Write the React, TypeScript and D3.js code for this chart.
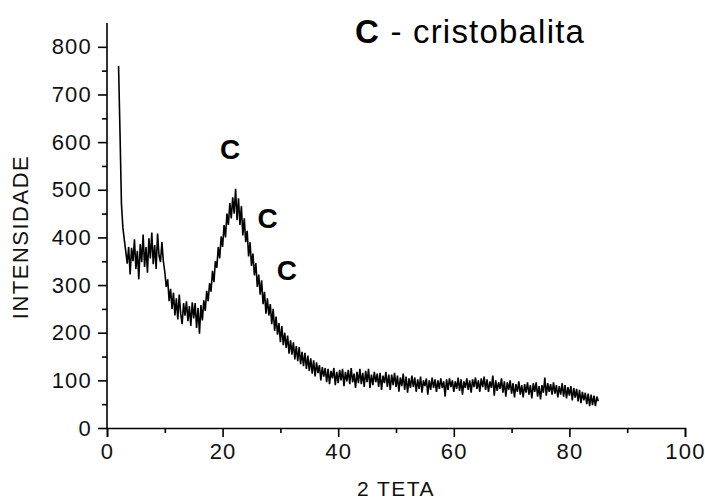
import React, { useEffect, useRef } from "react";
import * as d3 from "d3";

// 2-theta grid of the scan: start angle and step (degrees)
const angleStart = 2;
const angleStep = 0.25;

// intensity, 4 readings per degree from 2 to 85
const intensity = [
  760, 620, 470, 420, // 2
  395, 370, 345, 380, // 3
  322, 378, 350, 396, // 4
  334, 372, 312, 386, // 5
  348, 406, 338, 380, // 6
  326, 398, 356, 410, // 7
  344, 384, 334, 408, // 8
  362, 348, 390, 350, // 9
  328, 296, 312, 266, // 10
  292, 250, 284, 236, // 11
  272, 228, 280, 240, // 12
  218, 262, 236, 266, // 13
  224, 256, 214, 264, // 14
  230, 262, 210, 252, // 15
  198, 258, 226, 268, // 16
  246, 288, 266, 304, // 17
  286, 330, 306, 350, // 18
  336, 380, 356, 402, // 19
  380, 426, 400, 450, // 20
  426, 472, 440, 484, // 21
  450, 502, 436, 482, // 22
  426, 466, 404, 440, // 23
  390, 414, 360, 390, // 24
  340, 366, 320, 346, // 25
  296, 322, 280, 310, // 26
  260, 286, 240, 272, // 27
  236, 260, 218, 250, // 28
  204, 234, 196, 220, // 29
  180, 214, 174, 200, // 30
  168, 194, 156, 184, // 31
  154, 180, 144, 172, // 32
  140, 170, 134, 160, // 33
  130, 158, 124, 152, // 34
  120, 146, 114, 142, // 35
  108, 138, 115, 132, // 36
  100, 128, 108, 126, // 37
  96, 124, 92, 120, // 38
  104, 126, 90, 118, // 39
  94, 122, 100, 124, // 40
  88, 118, 98, 122, // 41
  92, 126, 96, 114, // 42
  84, 118, 94, 124, // 43
  92, 116, 86, 120, // 44
  96, 124, 84, 112, // 45
  90, 118, 96, 114, // 46
  86, 116, 80, 110, // 47
  94, 118, 86, 112, // 48
  80, 112, 90, 116, // 49
  86, 110, 76, 106, // 50
  88, 114, 80, 108, // 51
  74, 104, 84, 110, // 52
  86, 106, 76, 102, // 53
  82, 108, 74, 100, // 54
  88, 104, 70, 100, // 55
  80, 106, 84, 102, // 56
  76, 100, 82, 104, // 57
  84, 98, 66, 102, // 58
  80, 104, 86, 100, // 59
  76, 98, 82, 106, // 60
  78, 102, 70, 98, // 61
  84, 104, 80, 100, // 62
  74, 102, 86, 106, // 63
  82, 100, 76, 104, // 64
  86, 108, 80, 102, // 65
  76, 98, 84, 110, // 66
  68, 100, 78, 96, // 67
  82, 104, 74, 98, // 68
  66, 96, 80, 100, // 69
  72, 94, 64, 92, // 70
  76, 98, 70, 90, // 71
  64, 92, 74, 96, // 72
  70, 90, 62, 94, // 73
  76, 96, 66, 88, // 74
  60, 90, 74, 106, // 75
  68, 94, 76, 92, // 76
  70, 96, 72, 90, // 77
  64, 88, 70, 94, // 78
  66, 90, 62, 86, // 79
  68, 88, 58, 84, // 80
  64, 82, 56, 80, // 81
  52, 76, 58, 74, // 82
  50, 72, 46, 70, // 83
  48, 68, 46, 66, // 84
  56 // 85
];

const xTicks = [0, 20, 40, 60, 80, 100];
const yTicks = [0, 100, 200, 300, 400, 500, 600, 700, 800];

// peak markers: where the letters sit
const peakLabels = [
  { angle: 21.3, value: 565, text: "C" },
  { angle: 27.8, value: 420, text: "C" },
  { angle: 31.1, value: 310, text: "C" },
];

const width = 705;
const height = 502;
const margin = { top: 23, right: 20, bottom: 74, left: 107 };
const font = "'Liberation Sans', Arial, sans-serif";

export default function App() {
  const ref = useRef<SVGSVGElement>(null);

  useEffect(() => {
    const svg = d3.select(ref.current);
    svg.selectAll("*").remove();

    const innerHeight = height - margin.top - margin.bottom;
    const g = svg.append("g").attr("transform", `translate(${margin.left},${margin.top})`);

    const x = d3.scaleLinear().domain([0, 100]).range([0, 578]);
    const y = d3.scaleLinear().domain([0, 850]).range([innerHeight, 0]);

    const data = intensity.map((v, i) => ({ angle: angleStart + i * angleStep, v }));

    // x axis
    const xAxis = g.append("g").attr("transform", `translate(0,${innerHeight})`)
      .call(d3.axisBottom(x).tickValues(xTicks).tickSize(9).tickPadding(6).tickFormat(d3.format("d")));
    g.append("g").attr("transform", `translate(0,${innerHeight})`)
      .call(d3.axisBottom(x).tickValues(d3.range(10, 100, 20)).tickSize(5).tickFormat(() => ""))
      .select(".domain").remove();

    // y axis
    const yAxis = g.append("g")
      .call(d3.axisLeft(y).tickValues(yTicks).tickSize(9).tickPadding(6).tickFormat(d3.format("d")));
    g.append("g")
      .call(d3.axisLeft(y).tickValues(d3.range(50, 850, 100)).tickSize(5).tickFormat(() => ""))
      .select(".domain").remove();
    yAxis.select(".domain").attr("d", `M-0,${y(850)}V${innerHeight}`);

    g.selectAll(".domain, .tick line").attr("stroke", "#000").attr("stroke-width", 1.6);
    [xAxis, yAxis].forEach(a => a.selectAll("text")
      .attr("font-family", font).attr("font-size", 22).attr("letter-spacing", 1.2).attr("fill", "#111"));

    // pattern
    const line = d3.line<{ angle: number; v: number }>().x(d => x(d.angle)).y(d => y(d.v));
    g.append("path").datum(data).attr("d", line).attr("fill", "none")
      .attr("stroke", "#000").attr("stroke-width", 1.6).attr("stroke-linejoin", "miter");

    // peak letters
    g.selectAll(".peak").data(peakLabels).join("text").attr("class", "peak")
      .attr("x", d => x(d.angle)).attr("y", d => y(d.value))
      .attr("text-anchor", "middle").attr("font-family", font).attr("font-weight", "bold")
      .attr("font-size", 28).text(d => d.text);

    // axis titles
    svg.append("text").attr("x", margin.left + x(50)).attr("y", 496).attr("text-anchor", "middle")
      .attr("font-family", font).attr("font-size", 21).attr("letter-spacing", 1.5).attr("fill", "#111")
      .text("2 TETA");
    svg.append("text").attr("transform", `translate(28,237) rotate(-90)`).attr("text-anchor", "middle")
      .attr("font-family", font).attr("font-size", 22).attr("letter-spacing", 1.5).attr("fill", "#111")
      .text("INTENSIDADE");

    // legend
    const legend = svg.append("text").attr("x", 355).attr("y", 43)
      .attr("font-family", font).attr("font-size", 33).attr("letter-spacing", 1.2).attr("fill", "#000");
    legend.append("tspan").attr("font-weight", "bold").text("C");
    legend.append("tspan").text(" - cristobalita");
  }, []);

  return (
    <svg ref={ref} width={width} height={height}
      style={{ position: "absolute", left: 0, top: 0, background: "#fff" }} />
  );
}
